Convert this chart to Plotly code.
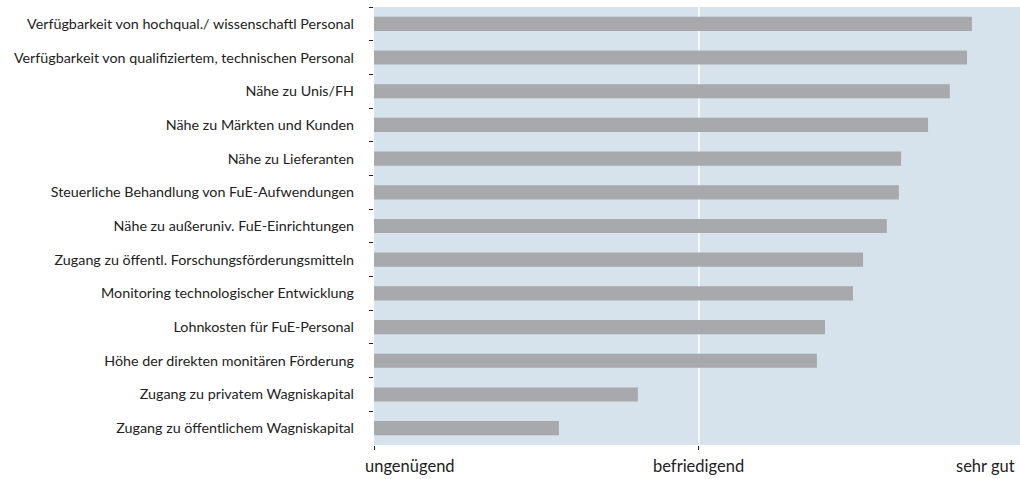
import plotly.graph_objects as go

categories = [
    "Verfügbarkeit von hochqual./ wissenschaftl Personal",
    "Verfügbarkeit von qualifiziertem, technischen Personal",
    "Nähe zu Unis/FH",
    "Nähe zu Märkten und Kunden",
    "Nähe zu Lieferanten",
    "Steuerliche Behandlung von FuE-Aufwendungen",
    "Nähe zu außeruniv. FuE-Einrichtungen",
    "Zugang zu öffentl. Forschungsförderungsmitteln",
    "Monitoring technologischer Entwicklung",
    "Lohnkosten für FuE-Personal",
    "Höhe der direkten monitären Förderung",
    "Zugang zu privatem Wagniskapital",
    "Zugang zu öffentlichem Wagniskapital",
]
values = [2.84, 2.825, 2.772, 2.705, 2.622, 2.615, 2.578, 2.505, 2.474, 2.388, 2.363, 1.812, 1.569]

scale_values = [1, 2, 3]
scale_labels = ["ungenügend", "befriedigend", "sehr gut"]

FONT = "Lato"
TXT = "#222222"

fig = go.Figure(go.Bar(
    x=[v - 1 for v in values],
    base=1,
    y=categories,
    orientation="h",
    width=0.42,
    marker=dict(color="#a7a9ac", line=dict(width=0)),
    hoverinfo="x+y",
))

fig.update_layout(
    width=1020, height=479,
    margin=dict(l=374, r=0, t=7, b=34),
    plot_bgcolor="#d6e2ec",
    paper_bgcolor="white",
    showlegend=False,
    font=dict(family=FONT, size=14.3, color=TXT),
    xaxis=dict(
        range=[1, 2.988],
        tickvals=[1, 2],
        showticklabels=False,
        ticks="outside", ticklen=4, tickwidth=1, tickcolor="#222",
        showgrid=False, zeroline=False, showline=False,
        fixedrange=True,
    ),
    yaxis=dict(
        categoryorder="array", categoryarray=categories,
        autorange="reversed",
        tickson="boundaries",
        ticks="outside", ticklen=4, tickwidth=1, tickcolor="#222",
        showgrid=False, zeroline=False, showline=False,
        tickfont=dict(family=FONT, size=14.3, color=TXT),
        ticklabelstandoff=19,
        automargin=False,
    ),
)

fig.add_shape(type="line", xref="x", yref="paper", x0=2, x1=2, y0=0, y1=1,
              line=dict(color="white", width=1.5), layer="below")

anchors = ["left", "center", "right"]
shifts = [-11, 0, -3]
for v, lab, a, s in zip(scale_values, scale_labels, anchors, shifts):
    fig.add_annotation(x=min(v, 2.988), y=0, xref="x", yref="paper",
                       text=lab, showarrow=False, xanchor=a, yanchor="top",
                       xshift=s, yshift=-9,
                       font=dict(family=FONT, size=16.5, color=TXT))

fig.write_html("out.html", config={"displayModeBar": False},
               post_script="document.body.style.margin='0';")
